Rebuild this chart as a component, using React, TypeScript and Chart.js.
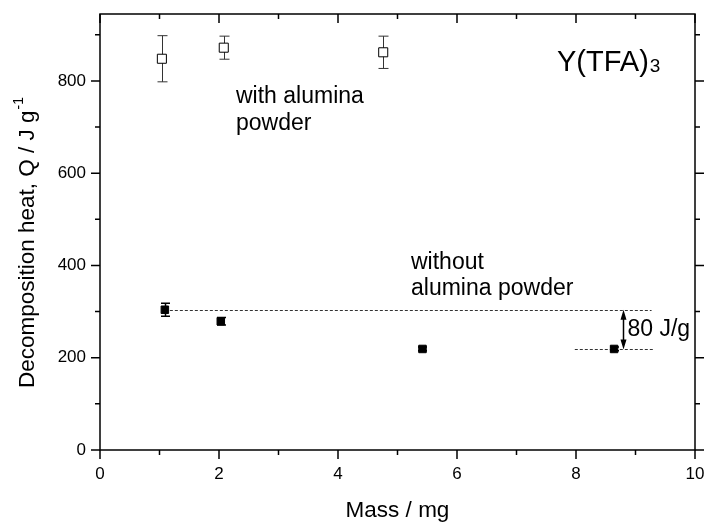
import { useEffect, useRef } from "react";
import { Chart, registerables } from "chart.js";

Chart.register(...registerables);

// ---- data ----
const withAluminaMass = [1.04, 2.08, 4.76];
const withAluminaHeat = [848, 872, 862];
const withAluminaErr = [50, 25, 35];

const withoutAluminaMass = [1.09, 2.03, 5.42, 8.64];
const withoutAluminaHeat = [304, 279, 219, 219];
const withoutAluminaErr = [14, 8, 4, 4];

const xMajorTicks = [0, 2, 4, 6, 8, 10];
const xMinorTicks = [1, 3, 5, 7, 9];
const yMajorTicks = [0, 200, 400, 600, 800];
const yMinorTicks = [100, 300, 500, 700, 900];

const upperRefX = [1.09, 9.27];
const upperRefY = 304;
const lowerRefX = [7.98, 9.3];
const lowerRefY = 218;
const arrowX = 8.79;
const arrowLabel = "80 J/g";

const xTitle = "Mass / mg";
const yTitle = "Decomposition heat, Q / J g";
const yTitleSup = "-1";

const FONT = '"Liberation Sans", Arial, sans-serif';
const f = (s: number) => `${s}px ${FONT}`;

const decor = {
  id: "decor",
  beforeDatasetsDraw(chart: any) {
    const { ctx } = chart;
    const x = chart.scales.x;
    const y = chart.scales.y;
    ctx.save();
    // dashed reference lines
    ctx.strokeStyle = "#333";
    ctx.lineWidth = 1;
    ctx.setLineDash([3, 2]);
    const hline = (xs: number[], v: number) => {
      const py = Math.round(y.getPixelForValue(v)) + 0.5;
      ctx.beginPath();
      ctx.moveTo(x.getPixelForValue(xs[0]), py);
      ctx.lineTo(x.getPixelForValue(xs[1]), py);
      ctx.stroke();
    };
    hline(upperRefX, upperRefY);
    hline(lowerRefX, lowerRefY);
    ctx.setLineDash([]);

    // error bars
    const bars = (xs: number[], ys: number[], es: number[], color: string, lw: number, cap: number) => {
      ctx.strokeStyle = color;
      ctx.lineWidth = lw;
      xs.forEach((xv, i) => {
        const px = Math.round(x.getPixelForValue(xv)) + 0.5;
        const top = y.getPixelForValue(ys[i] + es[i]);
        const bot = y.getPixelForValue(ys[i] - es[i]);
        ctx.beginPath();
        ctx.moveTo(px, top);
        ctx.lineTo(px, bot);
        ctx.moveTo(px - cap, top);
        ctx.lineTo(px + cap, top);
        ctx.moveTo(px - cap, bot);
        ctx.lineTo(px + cap, bot);
        ctx.stroke();
      });
    };
    bars(withAluminaMass, withAluminaHeat, withAluminaErr, "#333", 1, 5);
    bars(withoutAluminaMass, withoutAluminaHeat, withoutAluminaErr, "#000", 1.5, 4.5);
    ctx.restore();
  },
  afterDraw(chart: any) {
    const { ctx, chartArea } = chart;
    const x = chart.scales.x;
    const y = chart.scales.y;
    const { left, right, top, bottom } = chartArea;
    ctx.save();
    ctx.strokeStyle = "#000";
    ctx.lineWidth = 1.5;
    ctx.strokeRect(left, top, right - left, bottom - top);

    const MAJ = 9;
    const MIN = 5;
    ctx.beginPath();
    // bottom axis: outward (down); top axis: inward (down)
    const xt = (v: number, len: number) => {
      const px = x.getPixelForValue(v);
      ctx.moveTo(px, bottom);
      ctx.lineTo(px, bottom + len);
      ctx.moveTo(px, top);
      ctx.lineTo(px, top + len);
    };
    xMajorTicks.forEach((v) => xt(v, MAJ));
    xMinorTicks.forEach((v) => xt(v, MIN));
    // left axis: outward (left); right axis: outward (right)
    const yt = (v: number, len: number) => {
      const py = y.getPixelForValue(v);
      ctx.moveTo(left, py);
      ctx.lineTo(left - len, py);
      ctx.moveTo(right, py);
      ctx.lineTo(right + len, py);
    };
    yMajorTicks.forEach((v) => yt(v, MAJ));
    yMinorTicks.forEach((v) => yt(v, MIN));
    ctx.stroke();

    // double arrow
    const ax = Math.round(x.getPixelForValue(arrowX)) + 0.5;
    const ay1 = y.getPixelForValue(upperRefY);
    const ay2 = y.getPixelForValue(lowerRefY);
    ctx.lineWidth = 1.5;
    ctx.beginPath();
    ctx.moveTo(ax, ay1 + 8);
    ctx.lineTo(ax, ay2 - 8);
    ctx.stroke();
    ctx.fillStyle = "#000";
    ctx.beginPath();
    ctx.moveTo(ax, ay1);
    ctx.lineTo(ax - 3, ay1 + 10);
    ctx.lineTo(ax + 3, ay1 + 10);
    ctx.closePath();
    ctx.moveTo(ax, ay2);
    ctx.lineTo(ax - 3, ay2 - 10);
    ctx.lineTo(ax + 3, ay2 - 10);
    ctx.closePath();
    ctx.fill();

    // texts
    ctx.fillStyle = "#000";
    ctx.textBaseline = "alphabetic";
    ctx.textAlign = "left";
    ctx.font = f(23);
    ctx.fillText(arrowLabel, ax + 4, 336);
    ctx.fillText("with alumina", 236, 103);
    ctx.fillText("powder", 236, 129.5);
    ctx.fillText("without", 411, 269);
    ctx.fillText("alumina powder", 411, 295);

    ctx.font = f(29);
    ctx.fillText("Y(TFA)", 557, 71);
    const wY = ctx.measureText("Y(TFA)").width;
    ctx.font = f(19);
    ctx.fillText("3", 557 + wY + 1, 72);

    // x title
    ctx.font = f(22.5);
    ctx.textAlign = "center";
    ctx.textBaseline = "middle";
    ctx.fillText(xTitle, (left + right) / 2, 511);

    // y title (rotated, with superscript)
    ctx.save();
    ctx.translate(28, 243);
    ctx.rotate(-Math.PI / 2);
    ctx.textAlign = "left";
    ctx.font = f(22.5);
    const w1 = ctx.measureText(yTitle).width;
    ctx.font = f(14);
    const w2 = ctx.measureText(yTitleSup).width;
    const sx = -(w1 + w2) / 2;
    ctx.font = f(22.5);
    ctx.fillText(yTitle, sx, 0);
    ctx.font = f(14);
    ctx.fillText(yTitleSup, sx + w1 + 1, -9);
    ctx.restore();

    ctx.restore();
  },
};

export default function App() {
  const ref = useRef<HTMLCanvasElement | null>(null);
  useEffect(() => {
    if (!ref.current) return;
    const chart = new Chart(ref.current, {
      type: "scatter",
      data: {
        datasets: [
          {
            label: "with alumina powder",
            data: withAluminaMass.map((m, i) => ({ x: m, y: withAluminaHeat[i] })),
            pointStyle: "rect",
            pointRadius: 6.4,
            pointHoverRadius: 6.4,
            backgroundColor: "#fff",
            borderColor: "#000",
            borderWidth: 1,
            showLine: false,
          },
          {
            label: "without alumina powder",
            data: withoutAluminaMass.map((m, i) => ({ x: m, y: withoutAluminaHeat[i] })),
            pointStyle: "rect",
            pointRadius: 5.3,
            pointHoverRadius: 5.3,
            backgroundColor: "#000",
            borderColor: "#000",
            borderWidth: 1,
            showLine: false,
          },
        ],
      },
      options: {
        animation: false,
        responsive: false,
        events: [],
        layout: { padding: { top: 14, right: 11, bottom: 0, left: 0 } },
        plugins: { legend: { display: false }, tooltip: { enabled: false }, title: { display: false } },
        scales: {
          x: {
            type: "linear",
            min: 0,
            max: 10,
            grid: { display: false, drawTicks: false },
            border: { display: false },
            ticks: { font: { family: FONT, size: 17 }, color: "#000", padding: 14, maxRotation: 0 },
            afterBuildTicks: (s: any) => {
              s.ticks = xMajorTicks.map((v) => ({ value: v }));
            },
            afterFit: (s: any) => {
              s.height = 72;
              s.paddingLeft = 0;
              s.paddingRight = 0;
            },
          },
          y: {
            type: "linear",
            min: 0,
            max: 945,
            grid: { display: false, drawTicks: false },
            border: { display: false },
            ticks: { font: { family: FONT, size: 17 }, color: "#000", padding: 14 },
            afterBuildTicks: (s: any) => {
              s.ticks = yMajorTicks.map((v) => ({ value: v }));
            },
            afterFit: (s: any) => {
              s.width = 100;
              s.paddingTop = 0;
              s.paddingBottom = 0;
            },
          },
        },
      },
      plugins: [decor],
    });
    return () => chart.destroy();
  }, []);
  return (
    <div style={{ position: "fixed", left: 0, top: 0, width: 706, height: 522, background: "#fff" }}>
      <canvas ref={ref} width={706} height={522} style={{ display: "block" }} />
    </div>
  );
}
